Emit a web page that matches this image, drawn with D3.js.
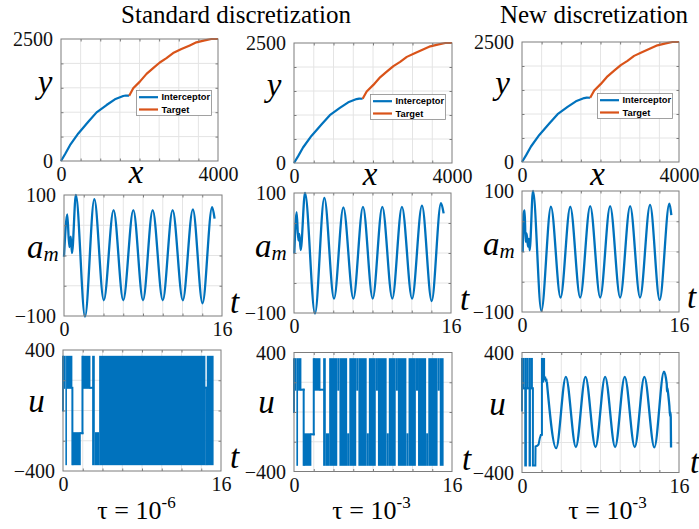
<!DOCTYPE html>
<html><head><meta charset="utf-8">
<script src="https://cdn.jsdelivr.net/npm/d3@7"></script>
<style>body{margin:0;background:#fff}svg{display:block}</style>
</head><body>
<svg id="c" width="699" height="529"></svg>
<script>
// ---------- DATA ----------
const titles = ["Standard discretization", "New discretization"];
const tauLabels = [["τ = 10", "-6"], ["τ = 10", "-3"], ["τ = 10", "-3"]];
const legendNames = ["Interceptor", "Target"];

// Row 1: trajectory (same in all three panels)
const interceptorXY = [[0,0],[102,138],[229,323],[441,564],[695,803],[907,996],[1161,1147],[1373,1264],[1585,1332],[1650,1342],[1738,1339]];
const targetXY = [[1738,1339],[1840,1490],[2009,1627],[2179,1785],[2348,1902],[2517,2019],[2687,2108],[2856,2211],[3069,2293],[3281,2369],[3450,2431],[3662,2472],[3832,2500],[4000,2500]];
const xTickLabels1 = [0, 4000], yTickLabels1 = [0, 2500];

// Row 2: a_m(t) extrema
const am1 = [[0,-2],[0.33,68],[0.54,14],[0.68,31],[0.81,4],[1.2,100],[2.13,-101],[3.07,93],[4.03,-74],[5.02,75],[6.0,-74],[7.02,75],[8.0,-74],[8.98,75],[10.0,-74],[11.0,75],[12.03,-74],[13.05,76],[14.03,-79],[15.0,80],[15.25,61]];
const am2 = [[0.03,-1],[0.27,68],[0.44,21],[0.54,32],[0.68,5],[1.12,100],[2.14,-101],[3.09,92],[4.08,-76],[5.03,76],[6.05,-76],[7.03,77],[8.02,-76],[9.0,77],[10.02,-76],[11.0,77],[12.03,-76],[13.04,79],[14.03,-80],[14.98,83],[15.25,66]];
const am3 = [[0.07,-1],[0.17,63],[0.27,68],[0.37,16],[0.47,30],[0.61,8],[0.71,21],[0.78,2],[1.12,100],[1.97,-98],[2.95,74],[3.93,-76],[4.92,74],[5.93,-76],[6.95,75],[7.97,-76],[8.98,75],[10.0,-76],[11.02,75],[12.03,-76],[13.05,77],[14.03,-80],[15.02,79],[15.22,60]];
const xTickLabels2 = [0, 16], yTickLabels2 = [-100, 100];

// Row 3: u(t) — chattering bands [t0, t1, low, high]
const u1Bands = [[0,0,0,355],[0,0.24,150,355],[0.24,0.40,-355,355],[0.40,0.95,150,355],[0.95,0.95,-355,150],[0.95,1.80,-355,-150],[1.80,1.97,-150,-150],[1.97,1.97,-150,355],[1.97,2.78,150,355],[2.78,2.95,150,150],[2.95,3.22,-355,355],[3.22,3.66,-355,-150],[3.66,14.42,-355,355],[14.42,14.50,150,150],[14.50,14.50,-355,150],[14.56,15.25,-355,355]];
const u2Bands = [[0,0,0,355],[0,0.24,150,355],[0.24,0.41,-355,355],[0.41,0.75,150,355],[0.75,0.98,150,150],[0.98,0.98,-355,150],[0.98,1.76,-355,-150],[1.76,2.0,-150,-150],[2.0,2.0,-150,355],[2.0,2.68,150,355],[2.68,2.95,150,150],[2.95,3.22,-355,355],[3.22,3.56,-355,-150],[3.56,4.38,-355,355],[4.38,4.60,150,355],[4.60,5.38,-355,355],[5.38,5.60,-355,-150],[5.60,6.30,-355,355],[6.30,6.52,150,355],[6.52,7.36,-355,355],[7.36,7.58,-355,-150],[7.58,8.28,-355,355],[8.28,8.50,150,355],[8.50,9.38,-355,355],[9.38,9.60,-355,-150],[9.60,10.30,-355,355],[10.30,10.52,150,355],[10.52,11.38,-355,355],[11.38,11.60,-355,-150],[11.60,12.34,-355,355],[12.34,12.56,150,355],[12.56,13.38,-355,355],[13.38,13.60,-355,-150],[13.60,14.54,-355,355],[14.54,14.76,150,355],[14.76,15.15,-355,355]];
const u3Bands = [[0.10,0.23,162,357],[0.23,0.50,-353,357],[0.50,0.67,162,357],[0.67,0.91,-353,357],[0.91,1.11,162,357],[2.03,2.25,206,357]];
const u3Steps = [[0,6],[0,357],[0.10,357],[0.10,162],[1.11,162],[1.11,-353],[1.36,-353],[1.38,-226],[1.55,-222],[1.69,-213],[1.80,-175],[1.92,-150],[2.03,-149],[2.03,357],[2.25,357],[2.25,250],[2.30,215],[2.36,240],[2.42,205],[2.47,225],[2.53,206]];
const u3Smooth = [[2.53,206],[3.48,-238],[4.47,238],[5.49,-230],[6.47,238],[7.49,-230],[8.47,238],[9.49,-230],[10.47,238],[11.49,-230],[12.47,238],[13.49,-232],[14.47,272],[14.75,190],[14.78,140],[14.81,165],[14.92,110],[15.02,42],[15.09,-24],[15.13,0],[15.16,-30],[15.19,-234]];
const xTickLabels3 = [0, 16], yTickLabels3 = [-400, 400];

// ---------- LAYOUT ----------
const blue = "#0072BD", orange = "#D95319";
const gridColor = "#e4e4e4", boxColor = "#7d7d7d";
const serif = "'Liberation Serif','Times New Roman',serif";
const boxes = [
  [{x:61,y:39,w:157,h:122},{x:294,y:43,w:158,h:120},{x:522,y:42,w:157,h:120}],
  [{x:64,y:195,w:158,h:121},{x:294,y:193,w:157,h:120},{x:522,y:191,w:157,h:121}],
  [{x:63,y:350,w:158,h:121},{x:294,y:352.5,w:158,h:119},{x:522,y:352.5,w:157,h:120}]
];
const svg = d3.select("#c");

function panel(b, xd, yd, xStep, yStep, xLab, yLab) {
  const x = d3.scaleLinear().domain(xd).range([b.x, b.x + b.w]);
  const y = d3.scaleLinear().domain(yd).range([b.y + b.h, b.y]);
  const g = svg.append("g");
  const xg = d3.range(xd[0] + xStep, xd[1] - 1e-9, xStep);
  const yg = d3.range(yd[0] + yStep, yd[1] - 1e-9, yStep);
  g.append("g").selectAll("line").data(xg).join("line")
    .attr("x1", d => x(d)).attr("x2", d => x(d)).attr("y1", b.y).attr("y2", b.y + b.h)
    .attr("stroke", gridColor).attr("stroke-width", 1);
  g.append("g").selectAll("line").data(yg).join("line")
    .attr("y1", d => y(d)).attr("y2", d => y(d)).attr("x1", b.x).attr("x2", b.x + b.w)
    .attr("stroke", gridColor).attr("stroke-width", 1);
  const data = svg.append("g");
  const top = svg.append("g");
  const tk = 2.5;
  const mk = (ax, tr) => { const a = top.append("g").attr("transform", tr).call(ax);
    a.select(".domain").remove(); a.selectAll("line").attr("stroke", boxColor); a.selectAll("text").remove(); };
  mk(d3.axisBottom(x).tickValues(xg).tickSize(-tk), `translate(0,${b.y + b.h})`);
  mk(d3.axisTop(x).tickValues(xg).tickSize(-tk), `translate(0,${b.y})`);
  mk(d3.axisLeft(y).tickValues(yg).tickSize(-tk), `translate(${b.x},0)`);
  mk(d3.axisRight(y).tickValues(yg).tickSize(-tk), `translate(${b.x + b.w},0)`);
  top.append("rect").attr("x", b.x).attr("y", b.y).attr("width", b.w).attr("height", b.h)
    .attr("fill", "none").attr("stroke", boxColor).attr("stroke-width", 1);
  const la = top.append("g").attr("transform", `translate(${b.x},0)`)
    .call(d3.axisLeft(y).tickValues(yLab).tickSize(0).tickPadding(8).tickFormat(d3.format("d")));
  la.select(".domain").remove();
  la.selectAll("text").attr("font-family", serif).attr("font-size", 20).attr("fill", "#111").attr("dy", "0.34em");
  const lb = top.append("g").attr("transform", `translate(0,${b.y + b.h})`)
    .call(d3.axisBottom(x).tickValues(xLab).tickSize(0).tickPadding(6).tickFormat(d3.format("d")));
  lb.select(".domain").remove();
  lb.selectAll("text").attr("font-family", serif).attr("font-size", 20).attr("fill", "#111").attr("dy", "0.72em");
  return {x, y, data, top};
}

function italic(t, x, y, anchor) {
  return svg.append("text").attr("x", x).attr("y", y).attr("text-anchor", anchor || "middle")
    .attr("font-family", serif).attr("font-style", "italic").attr("font-size", 33).attr("fill", "#000").text(t);
}

const lineGen = (p) => d3.line().x(d => p.x(d[0])).y(d => p.y(d[1]));

// Row 1
const yLabPos1 = [[45,93],[274,96],[502.5,94]];
const xLabPos1 = [[136,183],[370,185],[597.5,185]];
boxes[0].forEach((b, i) => {
  const p = panel(b, [0, 4000], [0, 2500], 500, 500, xTickLabels1, yTickLabels1);
  p.data.append("path").attr("d", lineGen(p)(interceptorXY)).attr("fill", "none").attr("stroke", blue).attr("stroke-width", 2.2).attr("stroke-linejoin", "round");
  p.data.append("path").attr("d", lineGen(p)(targetXY)).attr("fill", "none").attr("stroke", orange).attr("stroke-width", 2.2).attr("stroke-linejoin", "round");
  const lw = 75, lh = 25, lx = b.x + b.w - 6.5 - lw, ly = b.y + 51.5;
  const lg = p.top.append("g");
  lg.append("rect").attr("x", lx).attr("y", ly).attr("width", lw).attr("height", lh).attr("fill", "#fff").attr("stroke", "#8a8a8a").attr("stroke-width", 0.8);
  [blue, orange].forEach((c, k) => {
    const yy = ly + 6.7 + k * 12.3;
    lg.append("line").attr("x1", lx + 2.5).attr("x2", lx + 21.5).attr("y1", yy).attr("y2", yy).attr("stroke", c).attr("stroke-width", 2.2);
    lg.append("text").attr("x", lx + 25).attr("y", yy).attr("dy", "0.35em").attr("font-family", "'Liberation Sans',Arial,sans-serif")
      .attr("font-weight", "bold").attr("font-size", 9.3).attr("fill", "#000").text(legendNames[k]);
  });
  italic("y", yLabPos1[i][0], yLabPos1[i][1]);
  italic("x", xLabPos1[i][0], xLabPos1[i][1]);
});

// Row 2
const amData = [am1, am2, am3];
const amLabPos = [[27,258],[255,257],[483,255]];
const tLabPos2 = [[230,313],[460,310],[687,308]];
boxes[1].forEach((b, i) => {
  const p = panel(b, [0, 16], [-100, 100], 2, 50, xTickLabels2, yTickLabels2);
  p.data.append("path").attr("d", lineGen(p).curve(d3.curveMonotoneX)(amData[i]))
    .attr("fill", "none").attr("stroke", blue).attr("stroke-width", 2.3).attr("stroke-linejoin", "round");
  const t = italic("a", amLabPos[i][0], amLabPos[i][1], "start");
  t.append("tspan").attr("font-size", 21).attr("dy", 3).text("m");
  italic("t", tLabPos2[i][0], tLabPos2[i][1], "start");
});

// Row 3
const uBands = [u1Bands, u2Bands, u3Bands];
const uLabPos = [[36.5,412],[266.5,413],[497.5,415]];
const tLabPos3 = [[230,468],[462,470],[690,473]];
const tauPos = [136.5, 371.5, 607.5];
boxes[2].forEach((b, i) => {
  const p = panel(b, [0, 16], [-400, 400], 2, 200, xTickLabels3, yTickLabels3);
  uBands[i].forEach(([t0, t1, lo, hi]) => {
    if (t0 === t1 || lo === hi) {
      p.data.append("line").attr("x1", p.x(t0)).attr("x2", p.x(t1)).attr("y1", p.y(lo)).attr("y2", p.y(hi))
        .attr("stroke", blue).attr("stroke-width", 2).attr("stroke-linecap", "square");
    } else {
      p.data.append("rect").attr("x", p.x(t0)).attr("width", p.x(t1) - p.x(t0))
        .attr("y", p.y(hi) - 1).attr("height", p.y(lo) - p.y(hi) + 2).attr("fill", blue);
    }
  });
  if (i === 2) {
    p.data.append("path").attr("d", lineGen(p)(u3Steps)).attr("fill", "none").attr("stroke", blue).attr("stroke-width", 2);
    p.data.append("path").attr("d", lineGen(p).curve(d3.curveMonotoneX)(u3Smooth)).attr("fill", "none").attr("stroke", blue).attr("stroke-width", 2.3).attr("stroke-linejoin", "round");
  }
  italic("u", uLabPos[i][0], uLabPos[i][1]);
  italic("t", tLabPos3[i][0], tLabPos3[i][1], "start");
  const tt = svg.append("text").attr("x", tauPos[i]).attr("y", 519).attr("text-anchor", "middle")
    .attr("font-family", serif).attr("font-size", 26).attr("fill", "#000").text(tauLabels[i][0]);
  tt.append("tspan").attr("font-size", 17).attr("dy", -11).text(tauLabels[i][1]);
});

// Titles
[[236, titles[0]], [594, titles[1]]].forEach(([cx, s]) => {
  svg.append("text").attr("x", cx).attr("y", 23).attr("text-anchor", "middle")
    .attr("font-family", serif).attr("font-size", 25).attr("fill", "#000").text(s);
});
</script>
</body></html>
